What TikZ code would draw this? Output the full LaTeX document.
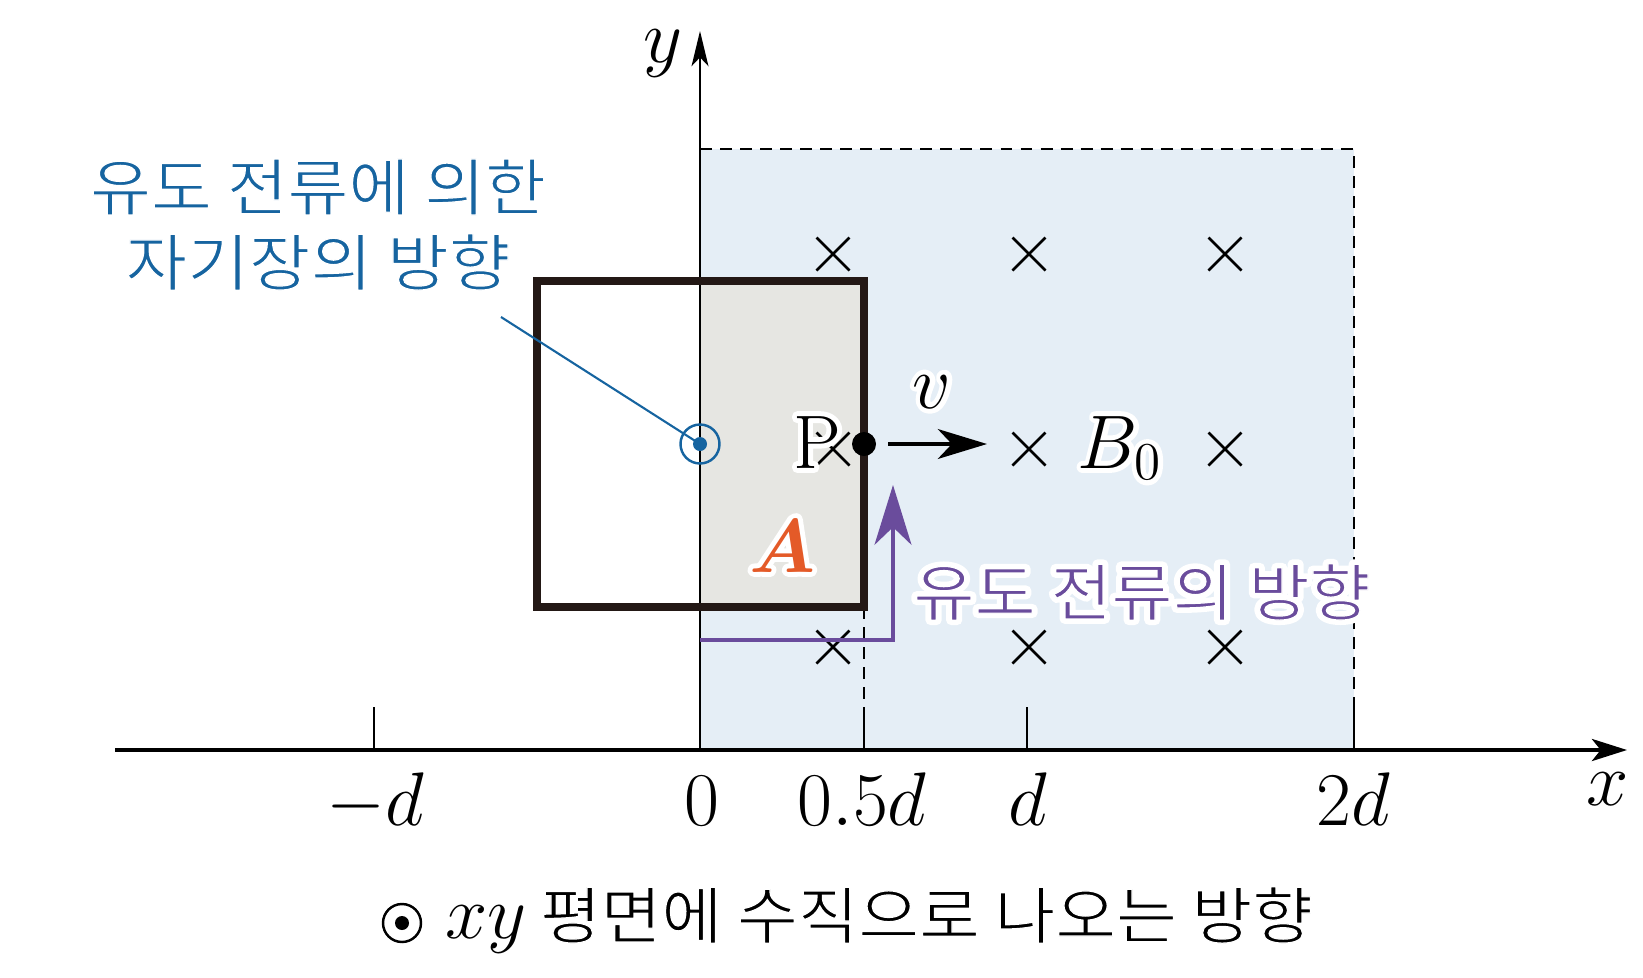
\RequirePackage{fix-cm}
\documentclass[tikz,border=0pt]{standalone}
\usepackage{fontspec}
\usepackage{bm}
\usepackage{graphicx}
\usetikzlibrary{arrows.meta}
\newfontfamily\kr{Noto Sans CJK KR}
\definecolor{fieldblue}{RGB}{229,238,246}
\definecolor{loopgrey}{RGB}{230,230,226}
\definecolor{loopdark}{RGB}{35,24,21}
\definecolor{indblue}{RGB}{22,100,160}
\definecolor{indpurple}{RGB}{106,76,156}
\definecolor{aorange}{RGB}{228,90,40}
\newcommand{\mfs}{\fontsize{21.6}{26}\selectfont}
\newcommand{\kfs}{\fontsize{17.6}{21}\selectfont\kr}
% white outline (halo) behind a text
\newcommand{\halo}[1]{\makebox[0pt][l]{\color{white}\special{pdf:literal direct 1 j 2 Tr 2.8 w}#1\special{pdf:literal direct 0 Tr 0 j}}#1}
% lighter strokes for Korean text (white edge stroke)
\newcommand{\thinkr}[1]{\special{pdf:literal direct 1 1 1 RG 2 Tr 0.35 w}#1\special{pdf:literal direct 0 Tr}}
\newcommand{\halothin}[1]{\makebox[0pt][l]{\color{white}\special{pdf:literal direct 1 j 2 Tr 2.8 w}#1\special{pdf:literal direct 0 Tr 0 j}}\thinkr{#1}}
\tikzset{
  lbl/.style={inner sep=0pt, outer sep=0pt, font=\mfs},
  krlbl/.style={inner sep=0pt, outer sep=0pt, font=\kfs},
  axisline/.style={line width=0.95pt, -{Stealth[length=10pt,width=6.3pt,inset=2.5pt]}},
  yaxisline/.style={line width=0.6pt, -{Stealth[length=10pt,width=4.8pt,inset=2.5pt]}},
  tick/.style={line width=0.6pt},
  dashline/.style={line width=0.6pt, dash pattern=on 3.4pt off 2.3pt},
  crossline/.style={line width=0.75pt},
  loopline/.style={line width=2pt, draw=loopdark},
}
\begin{document}
\begin{tikzpicture}[x=0.1mm,y=-0.1mm]
\useasboundingbox (0,0) rectangle (1643,977);
% field region
\fill[fieldblue] (700,149) rectangle (1354,750);
\fill[loopgrey] (700,281) rectangle (864,607);
\draw[dashline] (700,149) -- (1354,149) -- (1354,750);
\draw[dashline] (864,607) -- (864,707);
% coordinates
\coordinate (O) at (700,750);
\coordinate (xs) at (115,750);
\coordinate (xe) at (1627,750);
\coordinate (ye) at (700,31);
% axes
\draw[yaxisline] (O) -- (ye);
\draw[axisline] (xs) -- (xe);
\foreach \tx in {374,864,1027,1354} {\draw[tick] (\tx,707) -- (\tx,750);}
% tick labels
\node[lbl, anchor=base] (tm) at (375,825) {$-d$};
\node[lbl, anchor=base] (t0) at (702,825) {$0$};
\node[lbl, anchor=base] (th) at (862,825) {$0.5d$};
\node[lbl, anchor=base] (t1) at (1028,825) {$d$};
\node[lbl, anchor=base] (t2) at (1353,825) {$2d$};
\node[lbl, anchor=base] (xl) at (1608,805) {$x$};
\node[lbl, anchor=base] (yl) at (663,62) {$y$};
% crosses
\foreach \cx in {833,1029,1225} {
  \foreach \cy in {254,449,647} {
    \draw[crossline] (\cx-16.5,\cy-16.5) -- (\cx+16.5,\cy+16.5)
                     (\cx-16.5,\cy+16.5) -- (\cx+16.5,\cy-16.5);
  }
}
% loop
\draw[loopline] (537,281) rectangle (864,607);
% induced field marker
\node[circle, draw=indblue, line width=0.7pt, minimum size=39*0.1mm, inner sep=0pt] (odot) at (700,444) {};
\fill[indblue] (odot.center) circle (7);
\coordinate (bstart) at (501,317);
\draw[indblue, line width=0.6pt] (bstart) -- (odot.center);
\node[krlbl, text=indblue] (bt1) at (318,187) {\resizebox{45.6mm}{\height}{\thinkr{유도 전류에 의한}}};
\node[krlbl, text=indblue] (bt2) at (318,262) {\resizebox{38.5mm}{\height}{\thinkr{자기장의 방향}}};
% purple current arrow
\coordinate (ps) at (700,640);
\coordinate (pc) at (893,640);
\coordinate (pe) at (893,485);
\draw[indpurple, line width=1.1pt, -{Stealth[length=17pt,width=10.5pt,inset=5pt]}] (ps) -- (pc) -- (pe);
\node[krlbl, text=indpurple] (pt) at (1142,592) {\resizebox{45.7mm}{\height}{\halothin{유도 전류의 방향}}};
% point P and velocity
\node[lbl, anchor=base] (Pl) at (817,468) {\halo{$\mathrm{P}$}};
\node[circle, fill=black, minimum size=24*0.1mm, inner sep=0pt] (P) at (864,444) {};
\coordinate (vs) at (888,444);
\coordinate (ve) at (987,444);
\draw[line width=1pt, -{Stealth[length=14pt,width=8.5pt,inset=4pt]}] (vs) -- (ve);
\node[lbl, anchor=base] (vl) at (932,408) {\halo{$v$}};
\node[lbl, anchor=base] (Bl) at (1120,468) {\halo{$B_0$}};
\node[lbl, anchor=base, text=aorange] (Al) at (782,572) {\halo{$\bm{A}$}};
% legend
\node[circle, draw=black, line width=0.7pt, minimum size=38*0.1mm, inner sep=0pt] (ldot) at (402,923) {};
\fill[black] (ldot.center) circle (7);
\node[lbl, anchor=base] (lxy) at (486,938) {$xy$};
\node[krlbl, anchor=west] (ltxt) at (540,915) {\resizebox{77.3mm}{\height}{\thinkr{평면에 수직으로 나오는 방향}}};
\end{tikzpicture}
\end{document}
